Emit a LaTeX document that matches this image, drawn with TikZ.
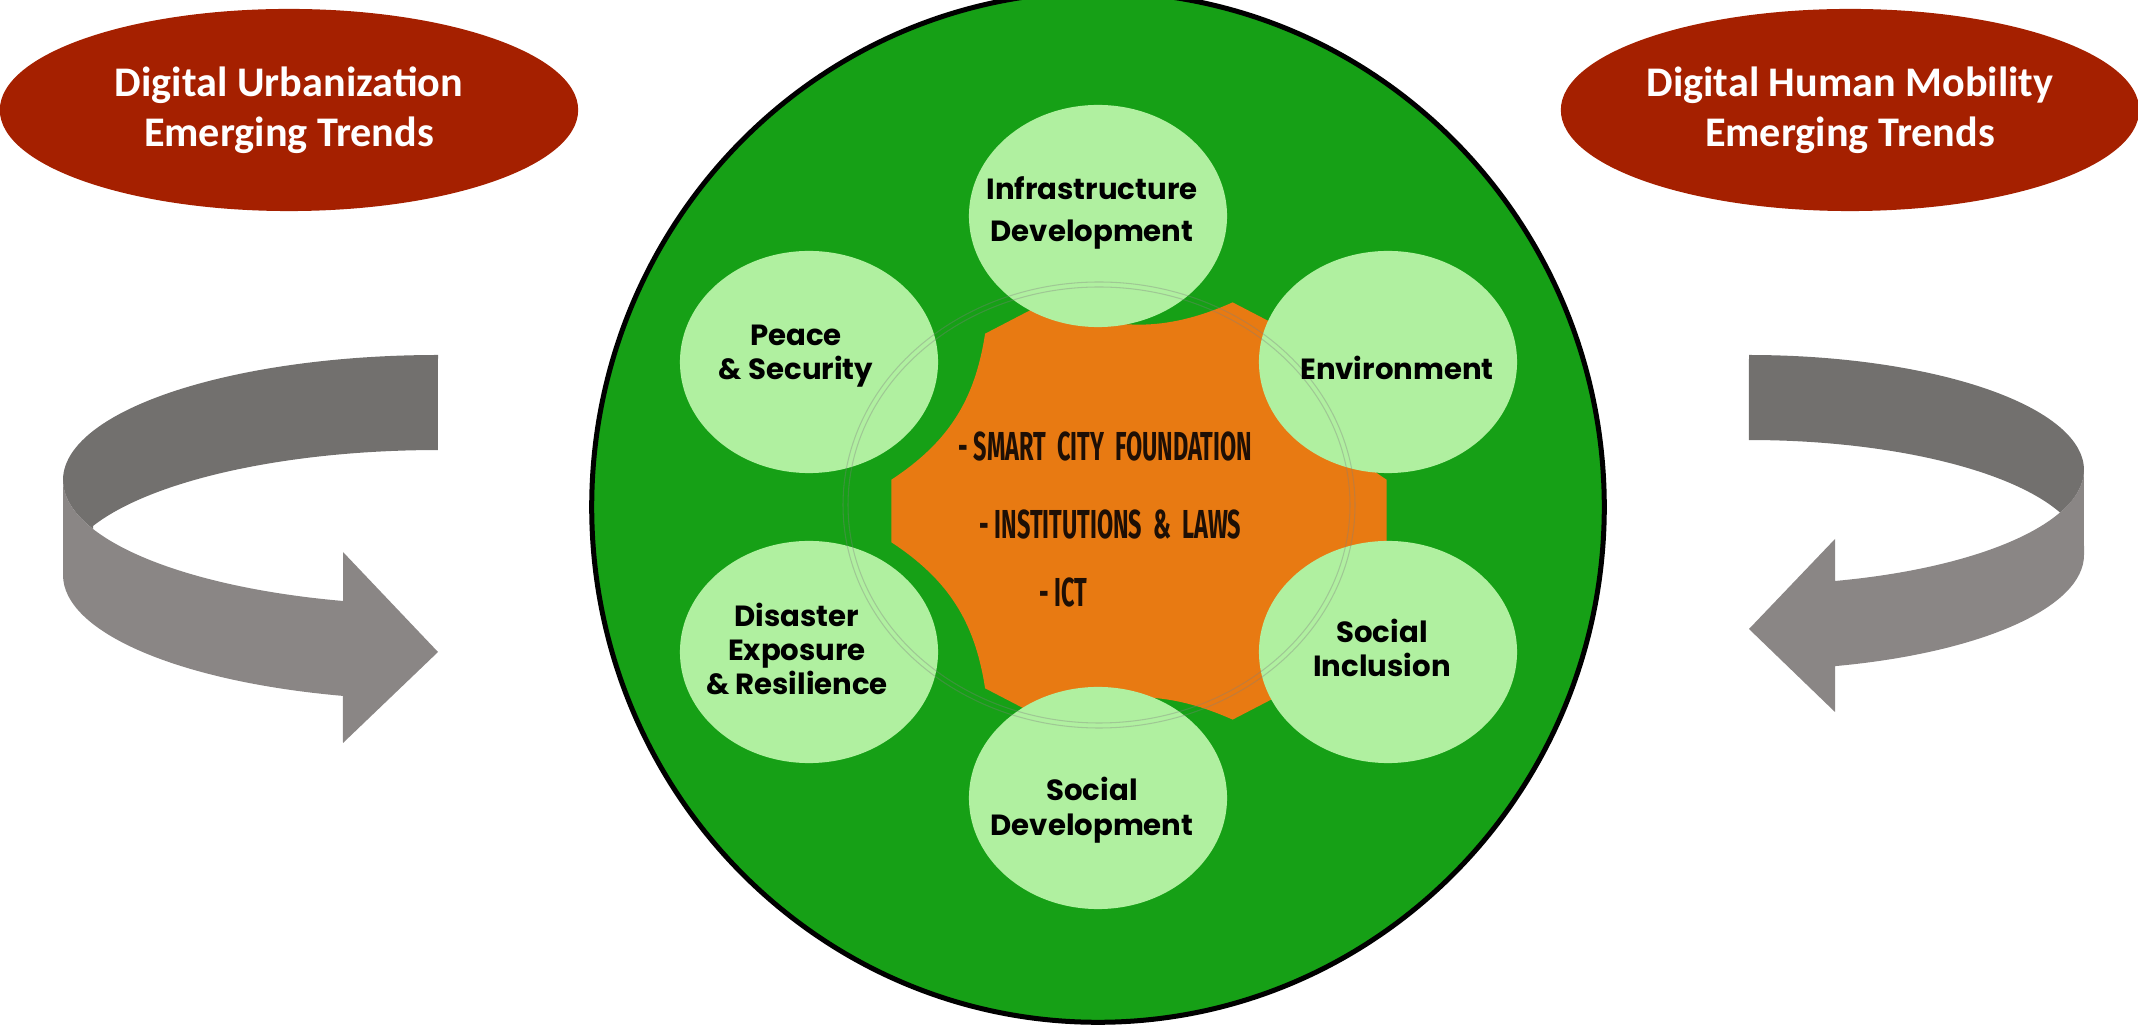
\documentclass[tikz,border=0pt]{standalone}
\usepackage{fontspec}
\usetikzlibrary{shapes.geometric}
\newfontfamily\carl{Carlito}
\newfontfamily\popf{Poppins}
\newfontfamily\firaf{Fira Sans}
\definecolor{ringgreen}{RGB}{22,160,22}
\definecolor{bubble}{RGB}{176,240,160}
\definecolor{gearorange}{RGB}{232,122,18}
\definecolor{trendred}{RGB}{165,32,0}
\definecolor{ribbondark}{RGB}{114,112,110}
\definecolor{ribbonlight}{RGB}{138,134,133}
\begin{document}
\begin{tikzpicture}[x=0.01cm,y=-0.01cm,
  trend/.style={ellipse, fill=trendred, minimum width=5.78cm, minimum height=2.02cm,
    inner sep=0pt, text=white, align=center,
    font=\carl\bfseries\fontsize{12}{14.2}\selectfont},
  bubblestyle/.style={ellipse, fill=bubble, minimum width=2.58cm, minimum height=2.22cm, inner sep=0pt},
  bubbletext/.style={align=center, inner sep=0pt, text=black,
    font=\popf\bfseries\fontsize{8.3}{9.8}\selectfont},
  coretext/.style={anchor=west, inner sep=0pt, text={rgb,255:red,30;green,15;blue,5},
    font=\firaf\bfseries\fontsize{11.5}{13}\selectfont}]
\useasboundingbox (0,0) rectangle (2138,1031);

% ---- top ellipses
\node[trend] (urb) at (289,110) {Digital Urbanization\\Emerging Trends};
\node[trend] (mob) at (1850,110) {Digital Human Mobility\\Emerging Trends};

% ---- left ribbon arrow
\fill[ribbondark] (438,355) arc[start angle=270, end angle=156.9, x radius=375, y radius=125]
  -- (93,526) arc[start angle=203.1, end angle=270, x radius=375, y radius=125] -- cycle;
\fill[ribbonlight] (343,601) arc[start angle=104.7, end angle=180, x radius=375, y radius=125]
  -- (63,575) arc[start angle=180, end angle=104.7, x radius=375, y radius=125]
  -- (343,743) -- (438,652) -- (343,552) -- cycle;

% ---- right ribbon arrow
\fill[ribbondark] (1749,355) arc[start angle=-90, end angle=21.7, x radius=335, y radius=115]
  -- (2060,512.5) arc[start angle=-21.7, end angle=-90, x radius=335, y radius=115] -- cycle;
\fill[ribbonlight] (1835,581) arc[start angle=75.1, end angle=0, x radius=335, y radius=115]
  -- (2084,555) arc[start angle=0, end angle=75.1, x radius=335, y radius=115]
  -- (1835,712) -- (1749,629) -- (1835,539) -- cycle;

% ---- big green disc
\node[ellipse, fill=ringgreen, draw=black, line width=0.05cm,
  minimum width=10.12cm, minimum height=10.30cm, inner sep=0pt] (ring) at (1098,507) {};

% ---- orange gear
\fill[gearorange, shift={(1139,511)}] (8:250 and 225)
  \foreach \a in {60,120,...,360} { to[bend right=24] ({\a-8}:250 and 225) -- ({\a+8}:250 and 225) } -- cycle;

% ---- bubbles
\node[bubblestyle] (infra) at (1098,216) {};
\node[bubblestyle] (peace) at (809,362) {};
\node[bubblestyle] (env) at (1388,362) {};
\node[bubblestyle] (dis) at (809,652) {};
\node[bubblestyle] (socinc) at (1388,652) {};
\node[bubblestyle] (socdev) at (1098,798) {};

% ---- faint double ring
\draw[gray, opacity=0.35, line width=0.3pt] (1099,505) ellipse[x radius=256, y radius=223];
\draw[gray, opacity=0.35, line width=0.3pt] (1099,505) ellipse[x radius=251, y radius=218];

% ---- bubble texts
\node[bubbletext, font=\popf\bfseries\fontsize{8.3}{12}\selectfont] (tinfra) at (1092,213) {Infrastructure\\Development};
\node[bubbletext] (tpeace) at (796,356) {Peace\\\& Security};
\node[bubbletext] (tenv) at (1397,368) {Environment};
\node[bubbletext] (tdis) at (797,649) {Disaster\\Exposure\\\& Resilience};
\node[bubbletext] (tsocinc) at (1382,648) {Social\\Inclusion};
\node[bubbletext] (tsocdev) at (1092,810) {Social\\Development};

% ---- core texts
\node[coretext] (c1) at (958,446) {\scalebox{0.58}[1]{- SMART\ \ CITY\ \ FOUNDATION}};
\node[coretext] (c2) at (979,524) {\scalebox{0.58}[1]{- INSTITUTIONS\ \ \&\ \ LAWS}};
\node[coretext] (c3) at (1039,592) {\scalebox{0.58}[1]{- ICT}};
\end{tikzpicture}
\end{document}
